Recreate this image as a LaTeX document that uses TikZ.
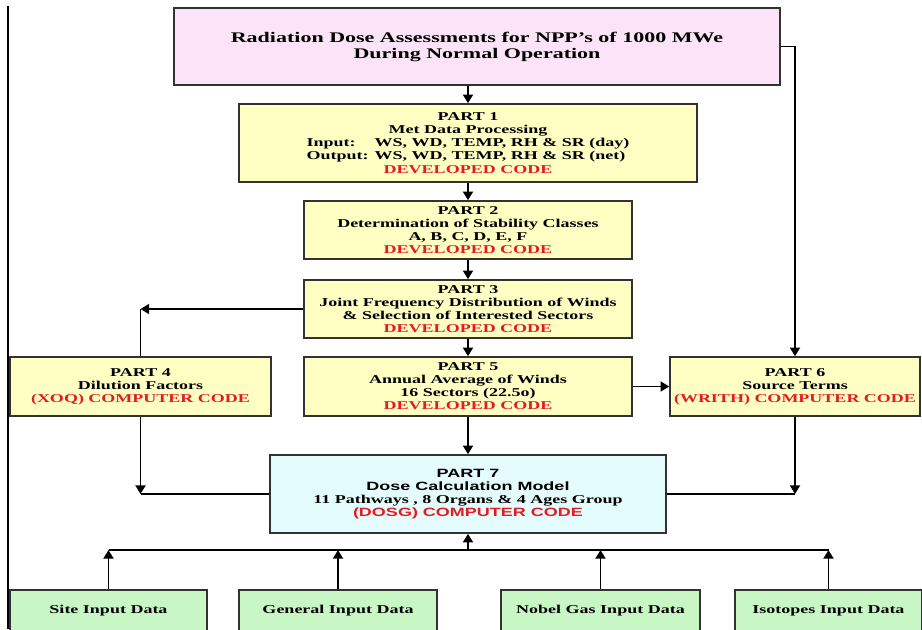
\documentclass[tikz,border=0pt]{standalone}
\usepackage{fontspec}
\setmainfont{Liberation Serif}[FakeStretch=1.5]
\newfontfamily\partsans{Liberation Sans}[FakeStretch=1.5]
\usetikzlibrary{arrows.meta}
\definecolor{codered}{RGB}{228,27,35}
\definecolor{boxline}{RGB}{50,50,50}
\definecolor{titlefill}{RGB}{252,228,248}
\definecolor{partfill}{RGB}{255,255,196}
\definecolor{dosefill}{RGB}{228,252,252}
\definecolor{inputfill}{RGB}{200,246,196}

\begin{document}
\begin{tikzpicture}[x=0.75pt,y=0.75pt,yscale=-1,
  every node/.style={font=\fontsize{9}{9.75}\selectfont\bfseries, align=center, inner sep=0pt},
  box/.style={draw=boxline, line width=1.2pt},
  titlebox/.style={box, fill=titlefill, minimum width=454.5pt, minimum height=57.75pt, font=\fontsize{11}{12}\selectfont\bfseries},
  partbox/.style={box, fill=partfill, minimum height=44.25pt},
  dosebox/.style={box, fill=dosefill, minimum width=297pt, minimum height=58.5pt},
  inbox/.style={box, fill=inputfill, minimum height=31.5pt},
  line/.style={line width=1.4pt},
  arr/.style={line, -{Triangle[length=6.5pt,width=7.5pt]}}]
\useasboundingbox (0,0) rectangle (922,629);
\clip (0,0) rectangle (922,629);

%page edge
\draw [line width=1.5pt] (7.5,6) -- (7.5,629);

% Title
\node [titlebox] (top) at (477,46.5) {Radiation Dose Assessments for NPP's of 1000 MWe\\During Normal Operation};

% Parts
\node [partbox, minimum width=343.5pt, minimum height=58.5pt] (p1) at (468,143) {PART 1\\Met Data Processing\\
  \begin{tabular}{@{}l@{ }l@{}}Input: & WS, WD, TEMP, RH \& SR (day)\\Output: & WS, WD, TEMP, RH \& SR (net)\end{tabular}\\
  {\color{codered}DEVELOPED CODE}};
\node [partbox, minimum width=246pt, minimum height=43.5pt] (p2) at (468,230) {PART 2\\Determination of Stability Classes\\A, B, C, D, E, F\\{\color{codered}DEVELOPED CODE}};
\node [partbox, minimum width=246pt, minimum height=43.5pt] (p3) at (468,309) {PART 3\\Joint Frequency Distribution of Winds\\\& Selection of Interested Sectors\\{\color{codered}DEVELOPED CODE}};
\node [partbox, minimum width=195.75pt] (p4) at (140.5,386.5) {PART 4\\Dilution Factors\\{\color{codered}(XOQ) COMPUTER CODE}};
\node [partbox, minimum width=246pt] (p5) at (468,386.5) {PART 5\\Annual Average of Winds\\16 Sectors (22.5o)\\{\color{codered}DEVELOPED CODE}};
\node [partbox, minimum width=187.5pt] (p6) at (795,386.5) {PART 6\\Source Terms\\{\color{codered}(WRITH) COMPUTER CODE}};
\node [dosebox] (p7) at (468,494) {{\partsans PART 7}\\{\partsans Dose Calculation Model}\\11 Pathways , 8 Organs \& 4 Ages Group\\{\partsans\color{codered}(DOSG) COMPUTER CODE}};

% Input data
\node [inbox, minimum width=147.75pt] (g1) at (108.5,611) {Site Input Data};
\node [inbox, minimum width=148.5pt] (g2) at (338,611) {General Input Data};
\node [inbox, minimum width=149.25pt] (g3) at (600.5,611) {Nobel Gas Input Data};
\node [inbox, minimum width=140.25pt] (g4) at (828.5,611) {Isotopes Input Data};

% Connectors
\draw [arr] (p1.north |- top.south) -- (p1.north);
\draw [arr] (p1) -- (p2);
\draw [arr] (p2) -- (p3);
\draw [arr] (p3) -- (p5);
\draw [arr] (p5) -- (p7);
\draw [arr] (p5) -- (p6);
\draw [arr] (top.east) -| (p6.north);

\coordinate (c4) at (p4.north |- p3.west);
\draw [arr] (p3.west) -- (c4);
\draw [line] (c4) -- (p4.north);

\coordinate (c4b) at (p4.south |- p7.west);
\draw [arr] (p4.south) -- (c4b);
\draw [line] (c4b) -- (p7.west);
\coordinate (c6b) at (p6.south |- p7.east);
\draw [arr] (p6.south) -- (c6b);
\draw [line] (c6b) -- (p7.east);

\coordinate (bus) at (468,550);
\draw [line] (g1.north |- bus) -- (g4.north |- bus);
\foreach \g in {g1,g2,g3,g4}
  \draw [arr] (\g.north) -- (\g.north |- bus);
\draw [arr] (bus) -- (p7.south);

\end{tikzpicture}
\end{document}
